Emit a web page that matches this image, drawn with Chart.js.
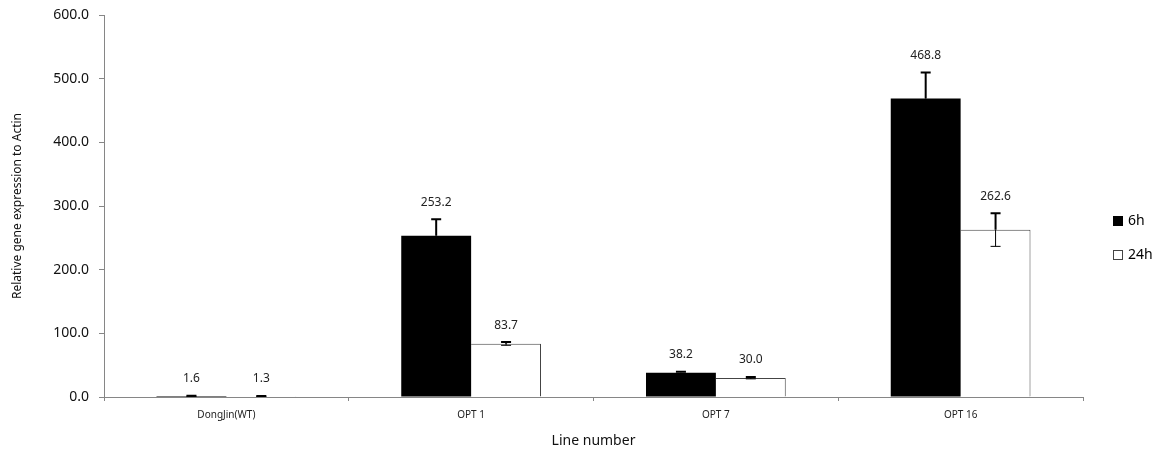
<!DOCTYPE html>
<html>
<head>
<meta charset="utf-8">
<script src="https://cdn.jsdelivr.net/npm/chart.js@4"></script>
<style>
  html, body { margin: 0; padding: 0; background: #fff; }
  .chart-container { width: 1161px; height: 453px; position: relative; }
</style>
</head>
<body>
<div class="chart-container"><canvas id="expressionChart"></canvas></div>
<script>
const categories = ["DongJin(WT)", "OPT 1", "OPT 7", "OPT 16"];
const seriesNames = ["6h", "24h"];
const values6h = [1.6, 253.2, 38.2, 468.8];
const values24h = [1.3, 83.7, 30.0, 262.6];
const errors6h = [0.5, 26, 1.5, 41];
const errors24h = [0.3, 2.5, 1.5, 26];

const axisColor = "#868686";
const fontFamily = "'Noto Sans', 'DejaVu Sans', sans-serif";

// error bars + value labels drawn on top of the bars
const errorBarPlugin = {
  id: "errorBars",
  afterDatasetsDraw(chart) {
    const ctx = chart.ctx;
    const yScale = chart.scales.y;
    chart.data.datasets.forEach((ds, di) => {
      const meta = chart.getDatasetMeta(di);
      meta.data.forEach((bar, i) => {
        const v = ds.data[i];
        const err = ds.errors[i];
        const yTop = yScale.getPixelForValue(v + err);
        const yBot = yScale.getPixelForValue(v - err);
        const yVal = yScale.getPixelForValue(v);
        const x = bar.x;
        ctx.save();
        ctx.strokeStyle = "#000";
        // upper whisker
        ctx.lineWidth = 2;
        ctx.beginPath();
        ctx.moveTo(x, yVal);
        ctx.lineTo(x, yTop);
        ctx.moveTo(x - 5, yTop);
        ctx.lineTo(x + 5, yTop);
        ctx.stroke();
        // lower whisker
        ctx.lineWidth = 1;
        ctx.beginPath();
        ctx.moveTo(x, yVal);
        ctx.lineTo(x, yBot);
        ctx.moveTo(x - 5, yBot);
        ctx.lineTo(x + 5, yBot);
        ctx.stroke();
        // value label
        ctx.fillStyle = "#222";
        ctx.font = "12px " + fontFamily;
        ctx.textAlign = "center";
        ctx.textBaseline = "middle";
        ctx.fillText(v.toFixed(1), x, yTop - 17);
        ctx.restore();
      });
    });
  },
  afterDraw(chart) {
    const ctx = chart.ctx;
    ctx.save();
    ctx.font = "14px " + fontFamily;
    ctx.textBaseline = "middle";
    ctx.textAlign = "left";
    ctx.fillStyle = "#000";
    ctx.fillRect(1113, 216, 10, 10);
    ctx.fillText(seriesNames[0], 1128, 221);
    ctx.fillStyle = "#fff";
    ctx.fillRect(1113.5, 250.5, 9, 9);
    ctx.strokeStyle = "#444";
    ctx.lineWidth = 1;
    ctx.strokeRect(1113.5, 250.5, 9, 9);
    ctx.fillStyle = "#000";
    ctx.fillText(seriesNames[1], 1128, 255);
    ctx.restore();
  },
};

const ctx = document.getElementById("expressionChart").getContext("2d");
new Chart(ctx, {
  type: "bar",
  data: {
    labels: categories,
    datasets: [
      {
        label: seriesNames[0],
        data: values6h,
        errors: errors6h,
        backgroundColor: "#000",
        borderColor: "#000",
        borderWidth: 0,
      },
      {
        label: seriesNames[1],
        data: values24h,
        errors: errors24h,
        backgroundColor: "#fff",
        borderColor: "#444",
        borderWidth: { top: 1, left: 0, right: 1, bottom: 0 },
      },
    ],
  },
  options: {
    responsive: true,
    maintainAspectRatio: false,
    animation: false,
    datasets: {
      bar: {
        categoryPercentage: 0.571,
        barPercentage: 1.0,
      },
    },
    layout: {
      padding: { top: 15, right: 78, left: 0, bottom: 0 },
    },
    plugins: {
      legend: { display: false },
      tooltip: { enabled: false },
    },
    scales: {
      y: {
        min: 0,
        max: 600,
        afterFit(scale) {
          scale.width = 104;
          scale.paddingTop = 0;
          scale.paddingBottom = 0;
        },
        border: { color: axisColor, width: 1 },
        grid: {
          drawOnChartArea: false,
          drawTicks: true,
          tickLength: 5,
          color: axisColor,
        },
        ticks: {
          stepSize: 100,
          color: "#111",
          padding: 10,
          font: { size: 14, family: fontFamily },
          callback: function (value) {
            return value.toFixed(1);
          },
        },
        title: {
          display: true,
          text: "Relative gene expression to Actin",
          color: "#111",
          padding: { top: 10, bottom: 0 },
          font: { size: 12, family: fontFamily },
        },
      },
      x: {
        afterFit(scale) {
          scale.height = 56;
          scale.paddingLeft = 0;
          scale.paddingRight = 0;
        },
        border: { color: axisColor, width: 1 },
        grid: {
          offset: true,
          drawOnChartArea: false,
          drawTicks: true,
          tickLength: 4,
          color: axisColor,
        },
        ticks: {
          color: "#222",
          padding: 8,
          font: { size: 10, family: fontFamily },
        },
        title: {
          display: true,
          text: "Line number",
          color: "#111",
          padding: { top: 6 },
          font: { size: 14, family: fontFamily },
        },
      },
    },
  },
  plugins: [errorBarPlugin],
});
</script>
</body>
</html>
